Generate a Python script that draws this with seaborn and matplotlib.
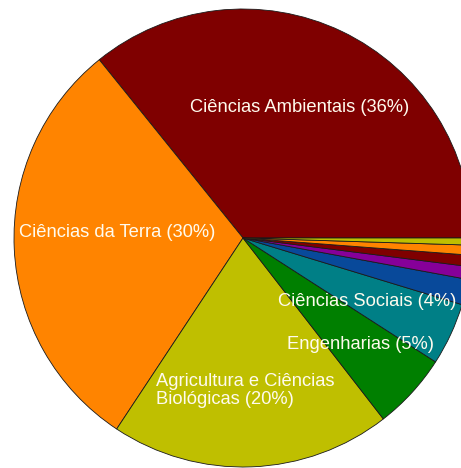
import matplotlib
matplotlib.use("Agg")
import matplotlib.pyplot as plt
import seaborn as sns

sns.set_theme(style="white")
plt.rcParams["font.family"] = ["Liberation Sans", "DejaVu Sans"]

# Share of publications per subject area (%)
areas = [
    "Ciências Ambientais",
    "Ciências da Terra",
    "Agricultura e Ciências\nBiológicas",
    "Engenharias",
    "Ciências Sociais",
    "Outras 1",
    "Outras 2",
    "Outras 3",
    "Outras 4",
    "Outras 5",
]
shares = [35.8, 29.9, 19.8, 5.4, 4.4, 1.8, 0.9, 0.8, 0.7, 0.5]
colors = [
    "#7f0000", "#ff8400", "#bfbf00", "#007f00", "#007f86",
    "#08499a", "#860099", "#7f0000", "#ff8400", "#bfbf00",
]
labelled = 5

W, H, dpi = 461, 468, 100
fig = plt.figure(figsize=(W / dpi, H / dpi), dpi=dpi)
# pie centre at (243, 238) px, radius 229 px
cx, cy, r = 243, 238, 229
ax = fig.add_axes([(cx - r) / W, (H - cy - r) / H, 2 * r / W, 2 * r / H])
ax.set_axis_off()

wedges, _ = ax.pie(
    shares,
    colors=colors,
    startangle=0,
    counterclock=True,
    radius=1,
    wedgeprops=dict(edgecolor="#1a1a1a", linewidth=0.6),
)
ax.set_xlim(-1, 1)
ax.set_ylim(-1, 1)
for w in wedges:
    w.set_clip_on(False)

# label anchor points in data units and their alignment
label_pos = [
    ((0.249, 0.568), "center"),
    ((-0.548, 0.022), "center"),
    ((-0.378, -0.665), "left"),
    ((0.515, -0.467), "center"),
    ((0.541, -0.279), "center"),
]
for name, val, ((x, y), ha) in zip(areas[:labelled], shares[:labelled], label_pos):
    ax.text(
        x, y, f"{name} ({round(val)}%)",
        ha=ha, va="center", ma="left",
        color="#fffbee", fontsize=13.2, linespacing=1.12,
    )

fig.savefig("out.png", dpi=dpi)
